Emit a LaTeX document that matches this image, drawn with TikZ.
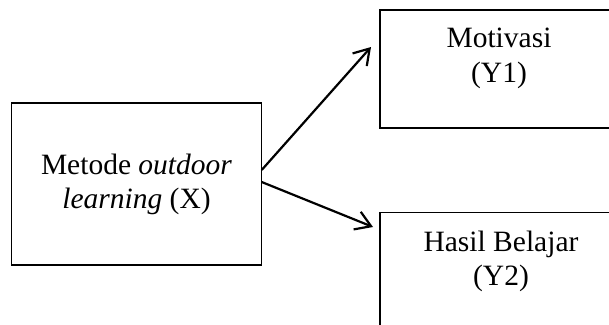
\documentclass[tikz,border=0pt]{standalone}
\usepackage{fontspec}
\setmainfont{Liberation Serif}
\usetikzlibrary{arrows.meta}
\tikzset{
  boxnode/.style={draw=black, line width=1.4pt, inner sep=0pt, outer sep=0pt},
  txt/.style={font=\fontsize{29.5}{34.5}\selectfont, align=center, inner sep=0pt},
  conn/.style={line width=2.2pt, -{Straight Barb[length=15pt,width=19pt,line width=2.2pt]}}
}
\begin{document}
\begin{tikzpicture}[x=1pt,y=-1pt]
\useasboundingbox (0,0) rectangle (609,324);
\clip (0,0) rectangle (609,324);
% boxes
\node[boxnode, minimum width=250pt, minimum height=162pt] (X) at (136.7,184) {};
\node[boxnode, minimum width=240pt, minimum height=118pt, anchor=north west] (Y1) at (380,10) {};
\node[boxnode, minimum width=240pt, minimum height=140pt, anchor=north west] (Y2) at (380,212.7) {};
% texts
\node[txt, anchor=base] (tx1) at (136.5,174) {Metode \textit{outdoor}};
\node[txt, anchor=base] (tx2) at (136.5,208) {\textit{learning} (X)};
\node[txt, anchor=base] (ty1a) at (499,47) {Motivasi};
\node[txt, anchor=base] (ty1b) at (499,82) {(Y1)};
\node[txt, anchor=base] (ty2a) at (501,251) {Hasil Belajar};
\node[txt, anchor=base] (ty2b) at (501,285) {(Y2)};
% connectors
\coordinate (s1) at ([yshift=14pt]X.east);
\coordinate (s2) at ([yshift=2pt]X.east);
\coordinate (e1) at (371,47);
\coordinate (e2) at (373,227);
\draw[conn] (s1) -- (e1);
\draw[conn] (s2) -- (e2);
\end{tikzpicture}
\end{document}
